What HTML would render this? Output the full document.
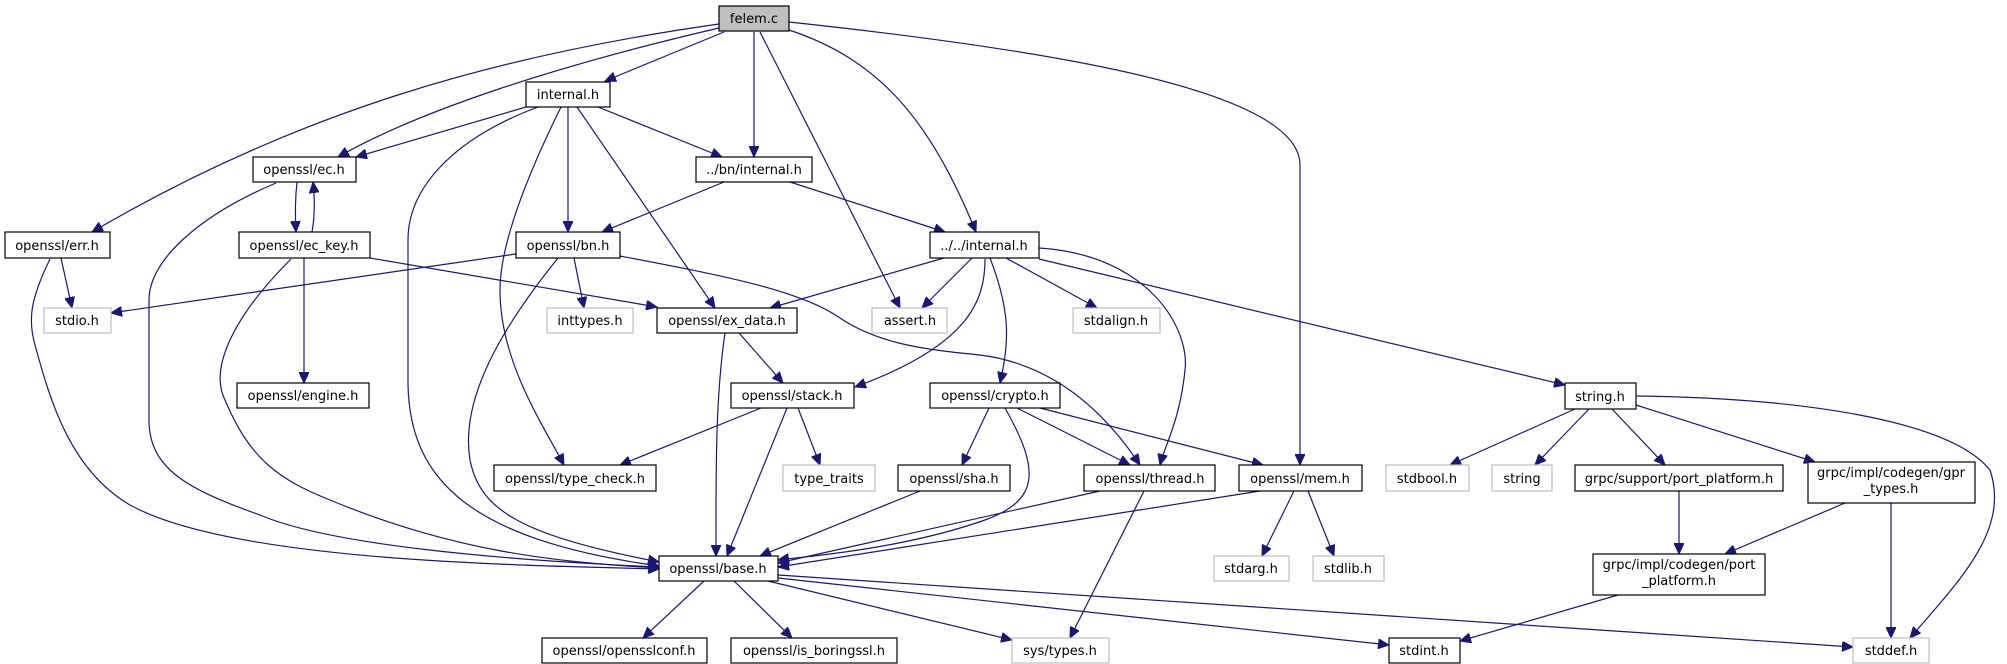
<!DOCTYPE html>
<html><head><meta charset="utf-8"><style>
html,body{margin:0;padding:0;background:#fff;}
svg{display:block;}
text{font-family:"DejaVu Sans","Liberation Sans",sans-serif;font-size:13px;fill:#000;text-anchor:middle;}
.n{fill:#fff;stroke:#000;stroke-width:1.2;}
.g{fill:#fff;stroke:#bfbfbf;stroke-width:1.2;}
.e{fill:none;stroke:#191970;stroke-width:1.2;marker-end:url(#a);}
</style></head><body>
<svg width="2007" height="664" viewBox="0 0 2007 664" xmlns="http://www.w3.org/2000/svg">
<defs><marker id="a" markerUnits="userSpaceOnUse" markerWidth="12" markerHeight="10" refX="11" refY="5" orient="auto"><path d="M0,0 L11,5 L0,10 z" fill="#191970" stroke="#191970"/></marker></defs>
<!-- edges -->
<path class="e" d="M719,24 C500,55 300,110 92,232"/>
<path class="e" d="M719,28 C560,65 420,110 338,157"/>
<path class="e" d="M724,32 L605,81"/>
<path class="e" d="M754,32 L754,157"/>
<path class="e" d="M760,32 L900,308"/>
<path class="e" d="M789,30 C880,60 930,120 976,232"/>
<path class="e" d="M789,22 C1050,50 1300,90 1300,165 L1300,465"/>
<path class="e" d="M526,107 L356,157"/>
<path class="e" d="M538,107 C450,140 408,190 408,240 L408,385 C410,480 470,540 659,566"/>
<path class="e" d="M561,107 C520,190 500,250 500,290 C500,360 540,420 564,465"/>
<path class="e" d="M568,107 L568,232"/>
<path class="e" d="M577,107 L715,308"/>
<path class="e" d="M598,107 L722,157"/>
<path class="e" d="M297,182 C295,200 295,215 296,232"/>
<path class="e" d="M312,232 C315,215 315,200 313,182"/>
<path class="e" d="M276,183 C200,215 149,260 149,300 L149,420 C149,470 190,490 260,515 C330,545 500,560 659,567"/>
<path class="e" d="M61,258 L72,308"/>
<path class="e" d="M50,259 C30,300 28,320 35,345 C50,400 70,470 130,505 C230,560 500,565 659,569"/>
<path class="e" d="M304,258 L304,383"/>
<path class="e" d="M291,259 C230,320 210,370 225,400 C250,460 280,480 330,500 C450,550 550,562 659,568"/>
<path class="e" d="M370,258 L657,307"/>
<path class="e" d="M516,254 L111,313"/>
<path class="e" d="M574,258 L584,308"/>
<path class="e" d="M558,258 C500,330 460,400 470,460 C480,510 520,535 659,562"/>
<path class="e" d="M620,256 C720,275 800,290 840,318 C880,345 930,350 980,355 C1060,365 1110,420 1140,465"/>
<path class="e" d="M724,182 L602,232"/>
<path class="e" d="M790,182 L945,232"/>
<path class="e" d="M944,258 L770,308"/>
<path class="e" d="M972,258 L922,308"/>
<path class="e" d="M985,259 C985,300 970,345 855,387"/>
<path class="e" d="M990,258 C1010,310 1010,340 1000,383"/>
<path class="e" d="M1006,258 L1097,308"/>
<path class="e" d="M1039,248 C1150,255 1190,330 1185,370 C1180,420 1165,445 1160,465"/>
<path class="e" d="M1039,259 L1565,385"/>
<path class="e" d="M739,333 L783,383"/>
<path class="e" d="M725,333 C715,400 716,480 716,556"/>
<path class="e" d="M761,408 L620,465"/>
<path class="e" d="M787,408 L727,556"/>
<path class="e" d="M798,408 L820,465"/>
<path class="e" d="M989,408 L962,465"/>
<path class="e" d="M1005,408 C1040,470 1040,500 985,520 C900,550 800,557 778,560"/>
<path class="e" d="M1017,408 L1130,465"/>
<path class="e" d="M1040,408 L1263,465"/>
<path class="e" d="M920,491 L760,556"/>
<path class="e" d="M1100,491 L778,563"/>
<path class="e" d="M1144,491 L1070,638"/>
<path class="e" d="M1260,491 L778,567"/>
<path class="e" d="M1294,491 L1262,556"/>
<path class="e" d="M1308,491 L1334,556"/>
<path class="e" d="M1575,409 L1450,465"/>
<path class="e" d="M1589,409 L1535,465"/>
<path class="e" d="M1612,409 L1665,465"/>
<path class="e" d="M1636,405 L1815,462"/>
<path class="e" d="M1636,396 C1800,398 1950,420 1990,470 C2010,530 1960,580 1910,638"/>
<path class="e" d="M1679,491 L1679,554"/>
<path class="e" d="M1845,503 L1725,554"/>
<path class="e" d="M1891,503 L1891,638"/>
<path class="e" d="M1618,595 L1460,641"/>
<path class="e" d="M704,581 L643,638"/>
<path class="e" d="M734,581 L792,638"/>
<path class="e" d="M768,581 L1012,640"/>
<path class="e" d="M778,578 L1389,645"/>
<path class="e" d="M778,575 L1853,647"/>
<!-- nodes -->
<rect x="719" y="6" width="70" height="25" fill="#bfbfbf" stroke="#000" stroke-width="1.2"/><text x="754" y="23">felem.c</text>
<rect class="n" x="526" y="82" width="84" height="25"/><text x="568" y="99">internal.h</text>
<rect class="n" x="253" y="157" width="103" height="25"/><text x="304" y="174">openssl/ec.h</text>
<rect class="n" x="696" y="157" width="116" height="25"/><text x="754" y="174">../bn/internal.h</text>
<rect class="n" x="5" y="232" width="105" height="26"/><text x="57" y="250">openssl/err.h</text>
<rect class="n" x="239" y="232" width="131" height="26"/><text x="304" y="250">openssl/ec_key.h</text>
<rect class="n" x="516" y="232" width="104" height="26"/><text x="568" y="250">openssl/bn.h</text>
<rect class="n" x="930" y="232" width="109" height="26"/><text x="984" y="250">../../internal.h</text>
<rect class="g" x="44" y="308" width="67" height="25"/><text x="77" y="325">stdio.h</text>
<rect class="g" x="547" y="308" width="86" height="25"/><text x="590" y="325">inttypes.h</text>
<rect class="n" x="657" y="308" width="140" height="25"/><text x="727" y="325">openssl/ex_data.h</text>
<rect class="g" x="872" y="308" width="75" height="25"/><text x="910" y="325">assert.h</text>
<rect class="g" x="1073" y="308" width="87" height="25"/><text x="1116" y="325">stdalign.h</text>
<rect class="n" x="237" y="383" width="132" height="25"/><text x="303" y="400">openssl/engine.h</text>
<rect class="n" x="731" y="383" width="123" height="25"/><text x="792" y="400">openssl/stack.h</text>
<rect class="n" x="930" y="383" width="130" height="25"/><text x="995" y="400">openssl/crypto.h</text>
<rect class="n" x="1565" y="383" width="71" height="26"/><text x="1600" y="401">string.h</text>
<rect class="n" x="494" y="465" width="162" height="26"/><text x="575" y="483">openssl/type_check.h</text>
<rect class="g" x="783" y="465" width="92" height="26"/><text x="829" y="483">type_traits</text>
<rect class="n" x="898" y="465" width="112" height="26"/><text x="954" y="483">openssl/sha.h</text>
<rect class="n" x="1084" y="465" width="131" height="26"/><text x="1150" y="483">openssl/thread.h</text>
<rect class="n" x="1239" y="465" width="123" height="26"/><text x="1300" y="483">openssl/mem.h</text>
<rect class="g" x="1386" y="465" width="83" height="26"/><text x="1427" y="483">stdbool.h</text>
<rect class="g" x="1492" y="465" width="60" height="26"/><text x="1522" y="483">string</text>
<rect class="n" x="1575" y="465" width="208" height="26"/><text x="1679" y="483">grpc/support/port_platform.h</text>
<rect class="n" x="1808" y="462" width="167" height="41"/><text x="1891" y="477">grpc/impl/codegen/gpr</text><text x="1891" y="493">_types.h</text>
<rect class="n" x="659" y="556" width="119" height="25"/><text x="718" y="573">openssl/base.h</text>
<rect class="g" x="1214" y="556" width="75" height="25"/><text x="1251" y="573">stdarg.h</text>
<rect class="g" x="1313" y="556" width="71" height="25"/><text x="1348" y="573">stdlib.h</text>
<rect class="n" x="1593" y="554" width="172" height="41"/><text x="1679" y="569">grpc/impl/codegen/port</text><text x="1679" y="585">_platform.h</text>
<rect class="n" x="542" y="638" width="165" height="25"/><text x="624" y="655">openssl/opensslconf.h</text>
<rect class="n" x="731" y="638" width="166" height="25"/><text x="814" y="655">openssl/is_boringssl.h</text>
<rect class="g" x="1012" y="638" width="97" height="25"/><text x="1060" y="655">sys/types.h</text>
<rect class="n" x="1389" y="638" width="71" height="25"/><text x="1424" y="655">stdint.h</text>
<rect class="g" x="1853" y="638" width="76" height="25"/><text x="1891" y="655">stddef.h</text>
</svg>
</body></html>
